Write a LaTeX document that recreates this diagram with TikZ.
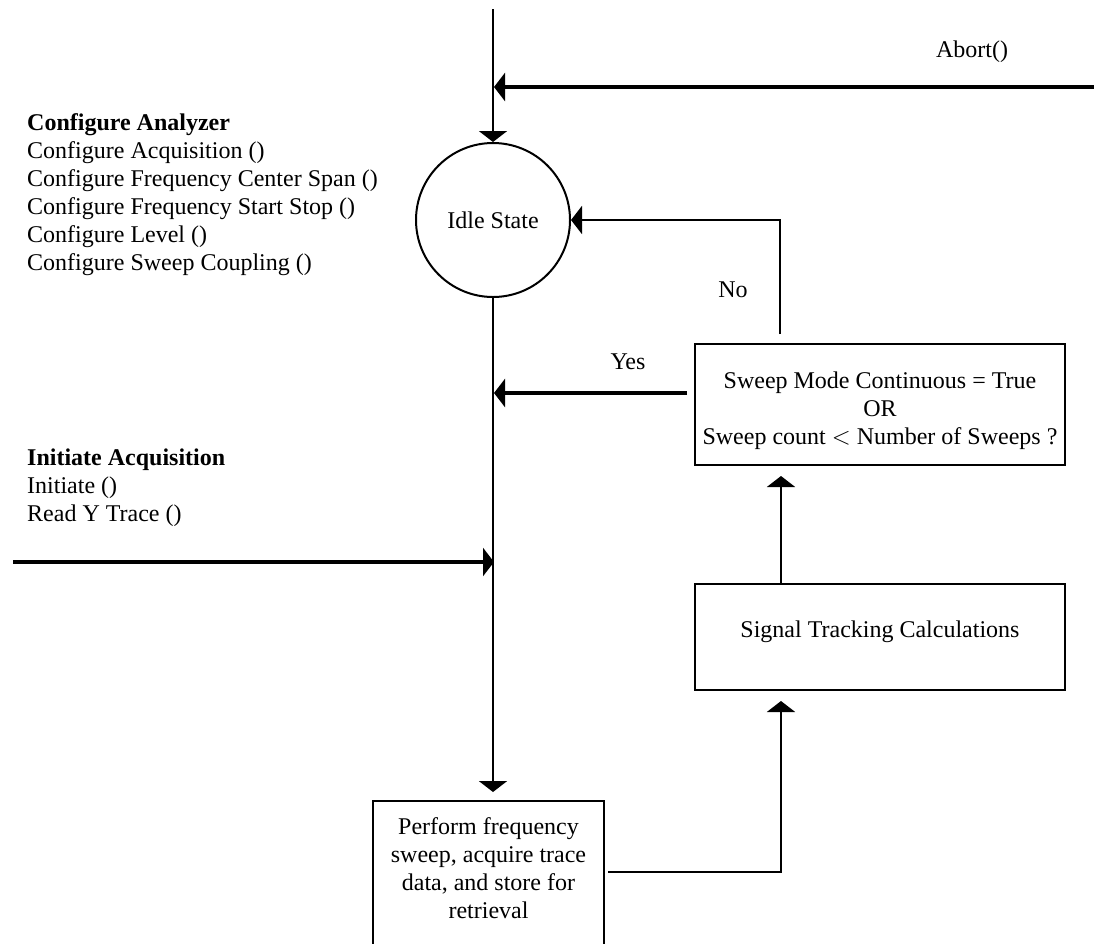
\documentclass[tikz,border=0pt]{standalone}
\usepackage{fontspec}
\setmainfont{Liberation Serif}
\usetikzlibrary{arrows.meta,calc}
\begin{document}
\begin{tikzpicture}[x=1pt,y=-1pt,
  every node/.style={font=\fontsize{24}{28}\selectfont, inner sep=0pt},
  thinline/.style={line width=2.2pt},
  thickline/.style={line width=4pt},
  tipped/.style={-{Triangle[length=11pt,width=28pt]}},
  boxed/.style={draw, line width=2pt},
]
\clip (0,0) rectangle (1094,943);
% states and boxes
\node[boxed, circle, minimum size=154pt] (idle) at (493,220) {Idle State};
\node[boxed, minimum width=370pt, minimum height=121pt] (sweep) at (880,404.5) {};
\node[align=center] (sweeptxt) at (880,411) {Sweep Mode Continuous = True\\OR\\Sweep count $<$ Number of Sweeps ?};
\node[boxed, minimum width=370pt, minimum height=106pt] (signal) at (880,637) {};
\node (signaltxt) at (880,632) {Signal Tracking Calculations};
\node[boxed, minimum width=231pt, minimum height=170pt, anchor=north] (perform) at (488.5,800) {};
\node[align=center] (performtxt) at (488.5,868.5) {Perform frequency\\sweep, acquire trace\\data, and store for\\retrieval};
% texts
\node[anchor=west, align=left] (cfg) at (27,195) {\textbf{Configure Analyzer}\\Configure Acquisition ()\\Configure Frequency Center Span ()\\Configure Frequency Start Stop ()\\Configure Level ()\\Configure Sweep Coupling ()};
\node[anchor=west, align=left] (ini) at (27,488) {\textbf{Initiate Acquisition}\\Initiate ()\\Read Y Trace ()};
\node (abortlbl) at (972,52) {Abort()};
\node (yeslbl) at (628,362) {Yes};
\node (nolbl) at (733,290) {No};
% free ends
\coordinate (top) at (493,9);
\coordinate (abortstart) at (1100,87);
\coordinate (abortend) at (494,87);
\coordinate (initstart) at (13,562);
\coordinate (initend) at (494,562);
\coordinate (yesstart) at (687,393);
\coordinate (yesend) at (494,393);
\coordinate (performin) at (493,792);
\coordinate (nostart) at ($(sweep.north west)+(86,-9)$);
\coordinate (perfout) at ($(perform.north east)+(3,72)$);
% connectors
\draw[thinline, tipped] (top) -- (idle.north);
\draw[thickline, tipped] (abortstart) -- (abortend);
\draw[thinline, tipped] (idle.south) -- (performin);
\draw[thickline, tipped] (initstart) -- (initend);
\draw[thickline, tipped] (yesstart) -- (yesend);
\draw[thinline, tipped] (nostart) |- (idle.east);
\draw[thinline, tipped] ($(signal.north west)+(87,0)$) -- ($(sweep.south west)+(87,10)$);
\draw[thinline, tipped] (perfout) -| ($(signal.south west)+(87,10)$);
\end{tikzpicture}
\end{document}
